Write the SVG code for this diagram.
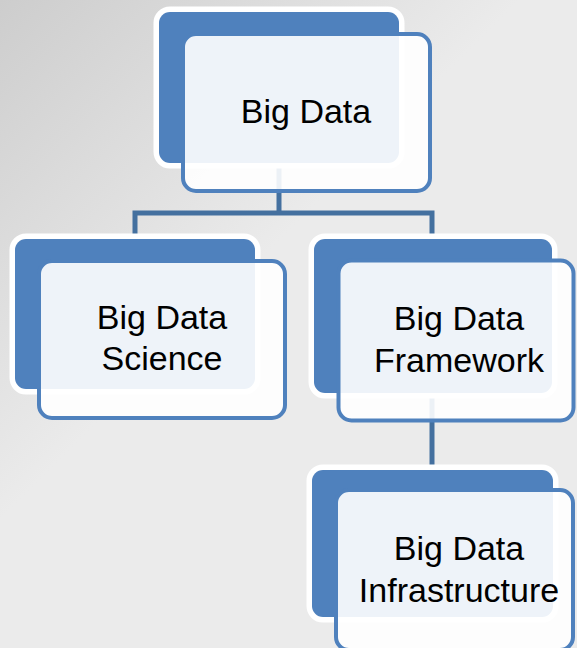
<svg xmlns="http://www.w3.org/2000/svg" width="577" height="648" viewBox="0 0 577 648">
<defs>
<linearGradient id="bg" gradientUnits="userSpaceOnUse" x1="0" y1="0" x2="260" y2="260">
<stop offset="0" stop-color="#cdcdcd"/>
<stop offset="1" stop-color="#ebebeb"/>
</linearGradient>
</defs>
<style>
.back{fill:#4f81bd;stroke:#ffffff;stroke-width:11;paint-order:stroke}
.front{fill:#ffffff;fill-opacity:0.9;stroke:#4f81bd;stroke-width:4}
.conn{fill:none;stroke:#44709f;stroke-width:5}
.lbl{font-family:"Liberation Sans",Arial,sans-serif;font-size:34px;fill:#000000;text-anchor:middle}
</style>
<rect x="0" y="0" width="577" height="648" fill="url(#bg)"/>
<g id="connectors">
<path class="conn" d="M279,163 V213"/>
<path class="conn" d="M135,239 V213 H432 V239"/>
<path class="conn" d="M432,393 V470"/>
</g>
<g id="node-bigdata">
<rect class="back" x="159" y="12" width="240" height="151" rx="11"/>
<rect class="front" x="183" y="34" width="247" height="157" rx="13"/>
<text class="lbl" x="306" y="123">Big Data</text>
</g>
<g id="node-science">
<rect class="back" x="15" y="239" width="240" height="150" rx="11"/>
<rect class="front" x="39" y="261" width="246" height="157" rx="13"/>
<text class="lbl" x="162" y="329">Big Data</text>
<text class="lbl" x="162" y="370">Science</text>
</g>
<g id="node-framework">
<rect class="back" x="314" y="239" width="238" height="154" rx="11"/>
<rect class="front" x="338.5" y="260.5" width="235" height="160" rx="13"/>
<text class="lbl" x="459" y="330">Big Data</text>
<text class="lbl" x="459" y="372">Framework</text>
</g>
<g id="node-infrastructure">
<rect class="back" x="312" y="470" width="241" height="147" rx="11"/>
<rect class="front" x="336" y="490" width="237" height="160" rx="13"/>
<text class="lbl" x="459" y="560">Big Data</text>
<text class="lbl" x="459" y="602">Infrastructure</text>
</g>
</svg>
